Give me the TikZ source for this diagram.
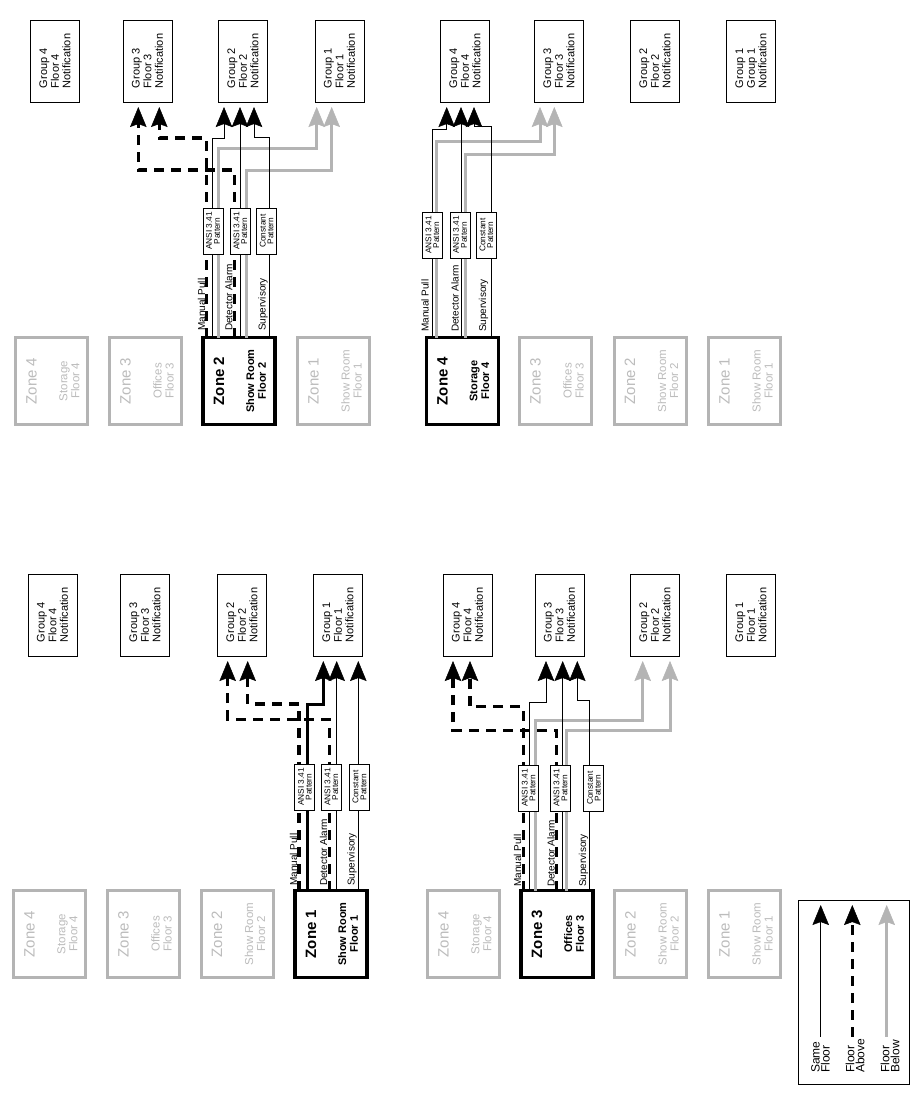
\documentclass[tikz,border=0pt]{standalone}
\usepackage{fontspec}
\setmainfont{Liberation Sans}
\usetikzlibrary{arrows.meta,calc}
\definecolor{lg}{RGB}{180,180,180}
\definecolor{lgt}{RGB}{188,188,188}
\tikzset{
 gbox/.style={draw, line width=0.8pt, minimum width=49pt, minimum height=82pt, inner sep=0pt, outer sep=0pt},
 gtxt/.style={rotate=90, align=left, font=\fontsize{11}{11.7}\selectfont, inner sep=0pt},
 zoff/.style={draw=lg, line width=3pt, minimum width=72pt, minimum height=87pt, inner sep=0pt, outer sep=0pt},
 zon/.style={draw=black, line width=3.5pt, minimum width=72pt, minimum height=87pt, inner sep=0pt, outer sep=0pt},
 zofflab/.style={rotate=90, text=lgt, inner sep=0pt, font=\fontsize{15}{15}\selectfont},
 zoffsub/.style={rotate=90, text=lgt, inner sep=0pt, align=center, font=\fontsize{11.5}{12}\selectfont},
 zonlab/.style={rotate=90, inner sep=0pt, font=\bfseries\fontsize{15}{15}\selectfont},
 zonsub/.style={rotate=90, inner sep=0pt, align=center, font=\bfseries\fontsize{11}{11.7}\selectfont},
 pbox/.style={draw, line width=0.8pt, fill=white, rotate=90, minimum width=46pt, minimum height=20pt, inner sep=0pt, align=center, font=\fontsize{8.3}{7.8}\selectfont},
 wlab/.style={rotate=90, anchor=base west, inner sep=0pt, font=\fontsize{10}{10}\selectfont},
 legtxt/.style={rotate=90, anchor=west, inner sep=0pt, align=left, font=\fontsize{12}{10}\selectfont},
 tipstyle/.style={-{Stealth[length=20pt,width=16.5pt,inset=3pt,line width=0.5pt]}},
 wire/.style={tipstyle, shorten >=5pt},
 same/.style={wire, line width=0.9pt},
 samethick/.style={wire, line width=3pt},
 above/.style={wire, line width=3.5pt, dash pattern=on 10pt off 7pt},
 below/.style={wire, draw=lg, line width=3pt},
}
\newcommand\grp[4]{\node[gbox] (#1) at (#2,#3) {};\node[gtxt] (#1-t) at (#1) {#4};}
\newcommand\zoneoff[5]{\node[zoff] (#1) at (#2,#3) {};
  \node[zofflab] (#1-l) at ($(#1.west)+(16,0)$) {#4};
  \node[zoffsub] (#1-s) at ($(#1.west)+(54,0)$) {#5};}
\newcommand\zoneon[5]{\node[zon] (#1) at (#2,#3) {};
  \node[zonlab] (#1-l) at ($(#1.west)+(16,0)$) {#4};
  \node[zonsub] (#1-s) at ($(#1.west)+(53,0)$) {#5};}
\newcommand\pat[4]{\node[pbox] (#1) at (#2,#3) {#4};}
\newcommand\wire[6]{\draw[#1] ($(#2.north west)+(#3,0)$) coordinate (w) -- (w |- 0,#4) -| ($(#5.south west)+(#6,0)$);}
\newcommand\wirest[4]{\draw[#1] ($(#2.north west)+(#3,0)$) coordinate (w) -- (w |- #4.south);}
\begin{document}
\begin{tikzpicture}[x=1pt,y=-1pt]
\fill[white] (0,0) rectangle (919,1098);
\useasboundingbox (0,0) rectangle (919,1098);

% ================= Top-left panel (Zone 2) =================
\grp{tlg4}{55}{61}{Group 4\\Floor 4\\Notification}
\grp{tlg3}{147.5}{61}{Group 3\\Floor 3\\Notification}
\grp{tlg2}{243}{61}{Group 2\\Floor 2\\Notification}
\grp{tlg1}{339.5}{61}{Group 1\\Floor 1\\Notification}
\zoneoff{tlz4}{51.5}{381}{Zone 4}{Storage\\Floor 4}
\zoneoff{tlz3}{145.5}{381}{Zone 3}{Offices\\Floor 3}
\zoneon{tlz2}{239}{381}{Zone 2}{Show Room\\Floor 2}
\zoneoff{tlz1}{333.5}{381}{Zone 1}{Show Room\\Floor 1}
\node[wlab] (tlmp) at (205,331) {Manual Pull};
\node[wlab] (tlda) at (232.3,331) {Detector Alarm};
\node[wlab] (tlsu) at (265.5,331) {Supervisory};
\wire{below}{tlz2}{15.3}{148}{tlg1}{1.7}
\wire{below}{tlz2}{43.7}{170}{tlg1}{16.7}
\wire{above}{tlz2}{3.7}{138}{tlg3}{36.3}
\wire{above}{tlz2}{31.3}{170}{tlg3}{15.3}
\wire{same}{tlz2}{9.3}{138}{tlg2}{5.5}
\wirest{same}{tlz2}{37}{tlg2}
\wire{same}{tlz2}{66.3}{137}{tlg2}{35.5}
\pat{tlp1}{213}{231}{ANSI 3.41\\Pattern}
\pat{tlp2}{240.3}{231}{ANSI 3.41\\Pattern}
\pat{tlp3}{266.7}{231}{Constant\\Pattern}

% ================= Top-right panel (Zone 4) =================
\grp{trg4}{465}{61}{Group 4\\Floor 4\\Notification}
\grp{trg3}{559}{61}{Group 3\\Floor 3\\Notification}
\grp{trg2}{655}{61}{Group 2\\Floor 2\\Notification}
\grp{trg1}{751}{61}{Group 1\\Group 1\\Notification}
\zoneon{trz4}{462.5}{381}{Zone 4}{Storage\\Floor 4}
\zoneoff{trz3}{555.5}{381}{Zone 3}{Offices\\Floor 3}
\zoneoff{trz2}{650}{381}{Zone 2}{Show Room\\Floor 2}
\zoneoff{trz1}{744.5}{381}{Zone 1}{Show Room\\Floor 1}
\node[wlab] (trmp) at (428.5,332) {Manual Pull};
\node[wlab] (trda) at (458.5,332) {Detector Alarm};
\node[wlab] (trsu) at (486,332) {Supervisory};
\wire{below}{trz4}{10.2}{141.7}{trg3}{5.5}
\wire{below}{trz4}{38.5}{154}{trg3}{19.8}
\wire{same}{trz4}{5.8}{129.3}{trg4}{6.2}
\wirest{same}{trz4}{34.5}{trg4}
\wire{same}{trz4}{65.2}{126}{trg4}{33.5}
\pat{trp1}{432.3}{235}{ANSI 3.41\\Pattern}
\pat{trp2}{460}{235}{ANSI 3.41\\Pattern}
\pat{trp3}{486.3}{235}{Constant\\Pattern}

% ================= Bottom-left panel (Zone 1) =================
\grp{blg4}{52.5}{615}{Group 4\\Floor 4\\Notification}
\grp{blg3}{145}{615}{Group 3\\Floor 3\\Notification}
\grp{blg2}{242}{615}{Group 2\\Floor 2\\Notification}
\grp{blg1}{338}{615}{Group 1\\Floor 1\\Notification}
\zoneoff{blz4}{49.5}{934}{Zone 4}{Storage\\Floor 4}
\zoneoff{blz3}{143.5}{934}{Zone 3}{Offices\\Floor 3}
\zoneoff{blz2}{237}{934}{Zone 2}{Show Room\\Floor 2}
\zoneon{blz1}{331}{934}{Zone 1}{Show Room\\Floor 1}
\node[wlab] (blmp) at (297,886) {Manual Pull};
\node[wlab] (blda) at (327,886) {Detector Alarm};
\node[wlab] (blsu) at (354.5,886) {Supervisory};
\wire{above}{blz1}{4}{704}{blg2}{30.2}
\wire{above}{blz1}{34.3}{719.3}{blg2}{10.2}
\wire{samethick}{blz1}{12.3}{704}{blg1}{9.8}
\wirest{same}{blz1}{41.7}{blg1}
\wirest{same}{blz1}{63.3}{blg1}
\pat{blp1}{304.8}{787}{ANSI 3.41\\Pattern}
\pat{blp2}{331.3}{787}{ANSI 3.41\\Pattern}
\pat{blp3}{359.5}{787}{Constant\\Pattern}

% ================= Bottom-right panel (Zone 3) =================
\grp{brg4}{467.5}{615}{Group 4\\Floor 4\\Notification}
\grp{brg3}{559.5}{615}{Group 3\\Floor 3\\Notification}
\grp{brg2}{655}{615}{Group 2\\Floor 2\\Notification}
\grp{brg1}{751}{615}{Group 1\\Floor 1\\Notification}
\zoneoff{brz4}{463.5}{934}{Zone 4}{Storage\\Floor 4}
\zoneon{brz3}{557}{934}{Zone 3}{Offices\\Floor 3}
\zoneoff{brz2}{650.5}{934}{Zone 2}{Show Room\\Floor 2}
\zoneoff{brz1}{744.5}{934}{Zone 1}{Show Room\\Floor 1}
\node[wlab] (brmp) at (521,887) {Manual Pull};
\node[wlab] (brda) at (554.5,887) {Detector Alarm};
\node[wlab] (brsu) at (586,887) {Supervisory};
\wire{below}{brz3}{14}{720}{brg2}{12.2}
\wire{below}{brz3}{45.7}{730.7}{brg2}{39.5}
\wire{above}{brz3}{2.3}{706.7}{brg4}{27}
\wire{above}{brz3}{35.7}{730.7}{brg4}{10}
\wire{same}{brz3}{8}{702.7}{brg3}{11}
\wirest{same}{brz3}{41.7}{brg3}
\wire{same}{brz3}{68.3}{700}{brg3}{42.3}
\pat{brp1}{528.7}{788}{ANSI 3.41\\Pattern}
\pat{brp2}{560.5}{788}{ANSI 3.41\\Pattern}
\pat{brp3}{593.8}{788}{Constant\\Pattern}

% ================= Legend =================
\node[draw, line width=0.8pt, minimum width=111pt, minimum height=184pt, inner sep=0pt, outer sep=0pt] (leg) at (853.8,992) {};
\draw[same] ($(leg.south west)+(22.4,-47.3)$) -- ($(leg.north west)+(22.4,0)$);
\draw[above] ($(leg.south west)+(54,-47.3)$) -- ($(leg.north west)+(54,0)$);
\draw[below] ($(leg.south west)+(88.4,-47.3)$) -- ($(leg.north west)+(88.4,0)$);
\node[legtxt] (leg1) at (820.5,1073) {Same\\Floor};
\node[legtxt] (leg2) at (855,1073) {Floor\\Above};
\node[legtxt] (leg3) at (890,1073) {Floor\\Below};
\end{tikzpicture}
\end{document}
